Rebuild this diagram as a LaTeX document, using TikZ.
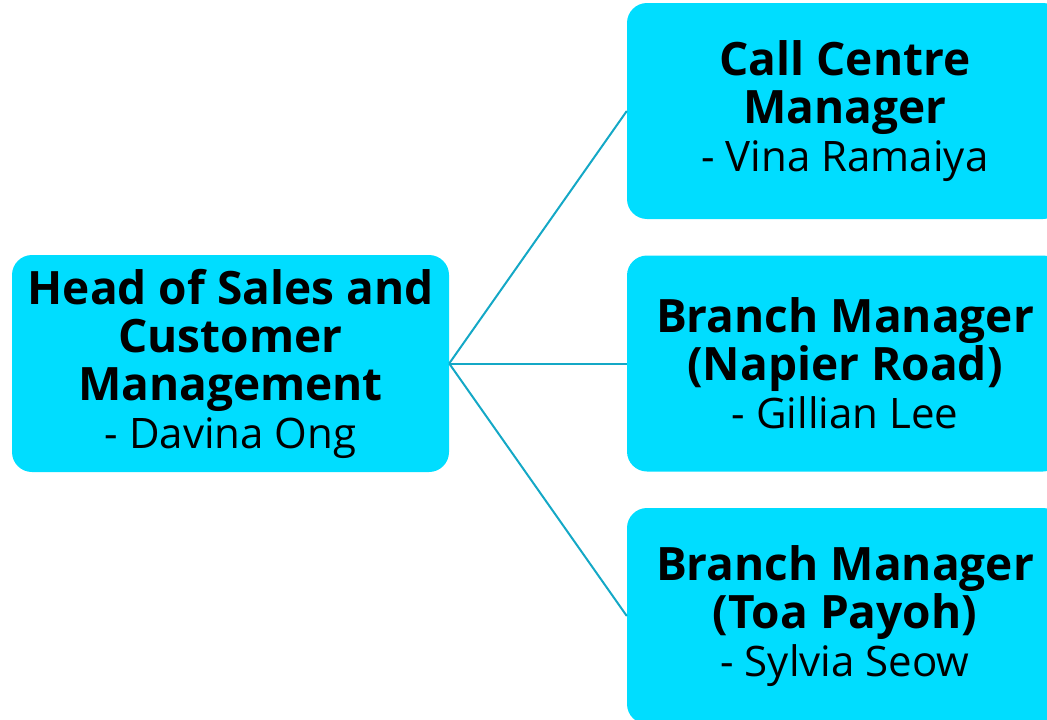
\documentclass[tikz,border=0pt]{standalone}
\usepackage{fontspec}
\setmainfont{Open Sans}
\definecolor{boxfill}{HTML}{00DDFF}
\definecolor{linkcol}{HTML}{14A8C6}
\newcommand{\ttl}[1]{{\fontsize{46}{48}\selectfont\bfseries #1}}
\newcommand{\nm}[1]{{\fontsize{42}{48}\selectfont #1}}
\begin{document}
\begin{tikzpicture}[x=1pt,y=-1pt,
  box/.style={fill=boxfill, draw=none, rounded corners=20pt, align=center,
    inner sep=0pt, font=\fontsize{42}{48}\selectfont},
  link/.style={draw=linkcol, line width=2pt}]
\useasboundingbox (0,0) rectangle (1047,720);
\clip (0,0) rectangle (1047,720);
\node[box, minimum width=437pt, minimum height=217pt] (head) at (230.5,363.5)
  {\ttl{Head of Sales and}\\\ttl{Customer}\\\ttl{Management}\\\nm{- Davina Ong}};
\node[box, minimum width=436pt, minimum height=216pt] (call) at (845,111)
  {\ttl{Call Centre}\\\ttl{Manager}\\\nm{- Vina Ramaiya}};
\node[box, minimum width=436pt, minimum height=216pt] (napier) at (845,363.5)
  {\ttl{Branch Manager}\\\ttl{(Napier Road)}\\\nm{- Gillian Lee}};
\node[box, minimum width=436pt, minimum height=216pt] (toa) at (845,616)
  {\ttl{Branch Manager}\\\ttl{(Toa Payoh)}\\\nm{- Sylvia Seow}};
\draw[link] (head.east) -- (call.west);
\draw[link] (head.east) -- (napier.west);
\draw[link] (head.east) -- (toa.west);
\end{tikzpicture}
\end{document}
